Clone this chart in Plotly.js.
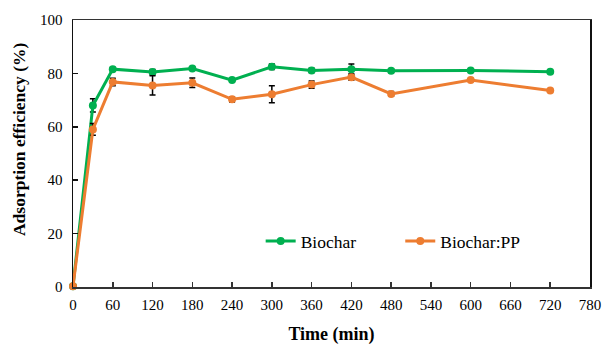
<!DOCTYPE html>
<html>
<head>
<meta charset="utf-8">
<script src="https://cdn.plot.ly/plotly-3.0.1.min.js"></script>
<style>html,body{margin:0;padding:0;background:#fff;}#chart{width:602px;height:345px;}</style>
</head>
<body>
<div id="chart"></div>
<script>
const timeMin = [0, 30, 60, 120, 180, 240, 300, 360, 420, 480, 600, 720];
const biochar = [0.3, 68.0, 81.6, 80.5, 81.8, 77.5, 82.5, 81.1, 81.6, 81.0, 81.1, 80.6];
const biocharErr = [0, 2.5, 0.6, 1.0, 0.6, 0.4, 1.0, 0.8, 1.9, 0.7, 0, 0];
const biocharPP = [0.3, 59.0, 76.8, 75.5, 76.5, 70.3, 72.2, 75.8, 78.6, 72.3, 77.5, 73.6];
const biocharPPErr = [0, 2.2, 1.4, 3.6, 1.8, 1.0, 3.2, 1.4, 1.2, 0.9, 0, 0];
const xTicks = [0, 60, 120, 180, 240, 300, 360, 420, 480, 540, 600, 660, 720, 780];
const yTicks = [0, 20, 40, 60, 80, 100];

const serif = "Liberation Serif, Times New Roman, serif";

const traces = [
  {
    x: timeMin, y: biochar, name: 'Biochar', type: 'scatter', mode: 'lines+markers',
    line: {color: '#00B050', width: 3}, marker: {color: '#00B050', size: 8},
    error_y: {type: 'data', array: biocharErr, visible: true, color: '#000', thickness: 1.5, width: 3},
    cliponaxis: false, legend: 'legend'
  },
  {
    x: timeMin, y: biocharPP, name: 'Biochar:PP', type: 'scatter', mode: 'lines+markers',
    line: {color: '#ED7D31', width: 3}, marker: {color: '#ED7D31', size: 8},
    error_y: {type: 'data', array: biocharPPErr, visible: true, color: '#000', thickness: 1.5, width: 3},
    cliponaxis: false, legend: 'legend2'
  }
];

const legendBase = {
  orientation: 'h', xanchor: 'left', yanchor: 'middle',
  font: {family: serif, size: 17.5, color: '#000'}, bgcolor: 'rgba(0,0,0,0)',
  itemwidth: 30
};

const layout = {
  width: 602, height: 345,
  margin: {l: 73, r: 12, t: 20, b: 58, autoexpand: false},
  paper_bgcolor: '#fff', plot_bgcolor: '#fff',
  font: {family: serif, color: '#000', size: 15},
  showlegend: true,
  legend: Object.assign({}, legendBase, {x: 0.363, y: 0.172}),
  legend2: Object.assign({}, legendBase, {x: 0.633, y: 0.172}),
  xaxis: {
    range: [0, 780], tickvals: xTicks, ticktext: xTicks.map(String),
    showgrid: false, zeroline: false, showline: true, linecolor: '#333', linewidth: 1.5,
    mirror: true, ticks: 'inside', ticklen: 5, tickcolor: '#333', tickwidth: 1.5,
    ticklabelstandoff: 3,
    tickfont: {family: serif, size: 15, color: '#000'},
    title: {text: '<b>Time (min)</b>', font: {family: serif, size: 18, color: '#000'}, standoff: 20}
  },
  yaxis: {
    range: [0, 100], tickvals: yTicks, ticktext: yTicks.map(String),
    showgrid: false, zeroline: false, showline: true, linecolor: '#111', linewidth: 1.5,
    mirror: true, ticks: 'inside', ticklen: 5, tickcolor: '#111', tickwidth: 1.5,
    ticklabelstandoff: 6,
    tickfont: {family: serif, size: 15, color: '#000'}
  },
  annotations: [{
    text: '<b>Adsorption efficiency (%)</b>', textangle: -90,
    xref: 'paper', yref: 'paper', x: -0.104, y: 0.555, xanchor: 'center', yanchor: 'middle',
    showarrow: false, font: {family: serif, size: 17.5, color: '#000'}
  }]
};

Plotly.newPlot('chart', traces, layout, {displayModeBar: false, staticPlot: true});
</script>
</body>
</html>
